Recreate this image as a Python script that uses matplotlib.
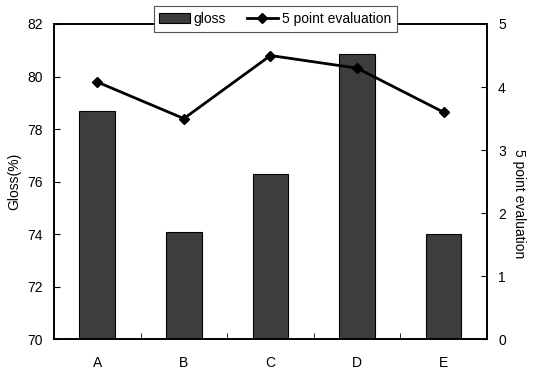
import matplotlib
matplotlib.use("Agg")
import matplotlib.pyplot as plt
from matplotlib.patches import Patch
from matplotlib.lines import Line2D

# values
samples = ["A", "B", "C", "D", "E"]
gloss = [78.7, 74.1, 76.3, 80.85, 74.0]
evaluation = [4.08, 3.5, 4.5, 4.3, 3.6]

gloss_ticks = [70, 72, 74, 76, 78, 80, 82]
eval_ticks = [0, 1, 2, 3, 4, 5]

plt.rcParams["font.family"] = ["Liberation Sans", "DejaVu Sans"]
plt.rcParams["font.size"] = 10

bar_color = "#3d3d3d"

fig = plt.figure(figsize=(5.34, 3.72), dpi=100)
ax = fig.add_axes([0.101, 0.088, 0.811, 0.8475])

x = list(range(len(samples)))
ax.bar(x, gloss, width=0.41, color=bar_color, edgecolor="black", linewidth=0.8)
ax.set_xlim(-0.5, len(samples) - 0.5)
ax.set_ylim(70, 82)
ax.set_yticks(gloss_ticks)
ax.set_xticks(x)
ax.set_xticklabels(samples)
ax.set_xticks([i + 0.5 for i in x[:-1]], minor=True)
ax.tick_params(axis="x", which="major", length=0, pad=12)
ax.tick_params(axis="x", which="minor", direction="in", length=4)
ax.tick_params(axis="y", direction="in", length=4, pad=8)
ax.set_ylabel("Gloss(%)", labelpad=4)

ax2 = ax.twinx()
ax2.plot(x, evaluation, color="black", linewidth=2, marker="D", markersize=5)
ax2.set_ylim(0, 5)
ax2.set_yticks(eval_ticks)
ax2.tick_params(axis="y", direction="in", length=4, pad=8)
ax2.set_ylabel("5 point evaluation", rotation=270, labelpad=16)
ax2.yaxis.set_label_coords(1.09, 0.43)

for a in (ax, ax2):
    for s in a.spines.values():
        s.set_linewidth(1.2)
        s.set_color("black")

handles = [
    Patch(facecolor=bar_color, edgecolor="black", linewidth=0.8),
    Line2D([0], [0], color="black", linewidth=2, marker="D", markersize=5),
]
leg = fig.legend(handles, ["gloss", "5 point evaluation"], loc="center",
                 bbox_to_anchor=(0.515, 0.949), ncol=2, frameon=True,
                 fancybox=False, framealpha=1, edgecolor="#555555",
                 handlelength=2.2, handletextpad=0.3, columnspacing=1.5,
                 numpoints=1, borderpad=0.4)
leg.get_frame().set_linewidth(0.8)

fig.savefig("out.png", dpi=100)
